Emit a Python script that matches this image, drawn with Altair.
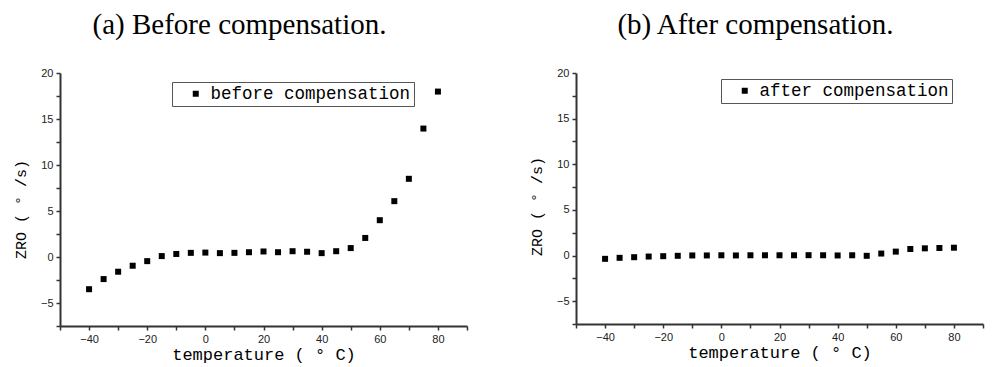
import altair as alt
import pandas as pd

temps = [-40, -35, -30, -25, -20, -15, -10, -5, 0, 5, 10, 15, 20, 25, 30, 35, 40, 45, 50, 55, 60, 65, 70, 75, 80]
before = [-3.5, -2.4, -1.6, -0.95, -0.45, 0.1, 0.33, 0.45, 0.48, 0.42, 0.45, 0.52, 0.6, 0.52, 0.63, 0.57,
          0.42, 0.63, 0.97, 2.07, 4.0, 6.07, 8.5, 13.96, 17.98]
after = [-0.36, -0.25, -0.18, -0.11, -0.07, -0.03, 0.01, 0.01, 0.03, 0.01, 0.03, 0.03, 0.03, 0.03, 0.04, 0.03,
         0.01, 0.03, -0.03, 0.22, 0.43, 0.72, 0.79, 0.83, 0.86]

x_ticks = [-50, -40, -30, -20, -10, 0, 10, 20, 30, 40, 50, 60, 70, 80, 90]
y_ticks = [-7.5, -5, -2.5, 0, 2.5, 5, 7.5, 10, 12.5, 15, 17.5, 20]

MONO = "Liberation Mono"


def panel(values, label, title, xtitle, height, lx, ly, ty):
    df = pd.DataFrame({"t": temps, "v": values, "s": label})
    return alt.Chart(df, title=alt.TitleParams(title, font="Liberation Serif", fontSize=29,
                                                 fontWeight="normal", color="black",
                                                 offset=27, dx=-24)).mark_point(
        shape="square", filled=True, size=36, color="black", opacity=1
    ).encode(
        x=alt.X("t:Q", scale=alt.Scale(domain=[-50, 90], nice=False, zero=False),
                axis=alt.Axis(values=x_ticks, title=xtitle,
                              labelExpr="datum.value % 20 == 0 ? datum.label : ''")),
        y=alt.Y("v:Q", scale=alt.Scale(domain=[-7.5, 20], nice=False, zero=False),
                axis=alt.Axis(values=y_ticks, title="ZRO ( ° /s)", titleY=ty,
                              labelExpr="datum.value % 5 == 0 ? datum.label : ''")),
        fill=alt.Fill("s:N", scale=alt.Scale(domain=[label], range=["black"]),
                      legend=alt.Legend(title=None, orient="none", legendX=lx, legendY=ly,
                                        symbolType="square", symbolSize=36, symbolStrokeWidth=0,
                                        labelFont=MONO, labelFontSize=17.5, labelColor="black",
                                        labelLimit=0,
                                        strokeColor="#555", fillColor="white", padding=3,
                                        symbolOffset=12, labelOffset=6)),
    ).properties(width=407, height=height)


left = panel(before, "before compensation", "(a) Before compensation.", "temperature ( ° C)", 253, 112, 9, 136)
right = panel(after, "after compensation", "(b) After compensation.", "temperature  ( ° C)", 251, 145, 6, 133)

chart = alt.ConcatChart(concat=[left, right], columns=2, spacing=61).resolve_scale(
    fill="independent"
).configure_view(
    strokeWidth=0
).configure_axis(
    domainColor="#333", domainWidth=2, tickColor="#333", tickWidth=1.5, tickSize=4,
    labelFont="Liberation Sans", labelFontSize=11, labelColor="#222", labelPadding=3,
    grid=False, titleFont=MONO, titleColor="black", titleFontWeight="normal"
).configure_axisX(
    titleFontSize=17, titlePadding=2
).configure_axisY(
    titleFontSize=15, titlePadding=12
).properties(padding={"left": 5, "top": 3, "right": 5, "bottom": 6})

chart.save("out.html", embed_options={"renderer": "svg", "actions": False})
